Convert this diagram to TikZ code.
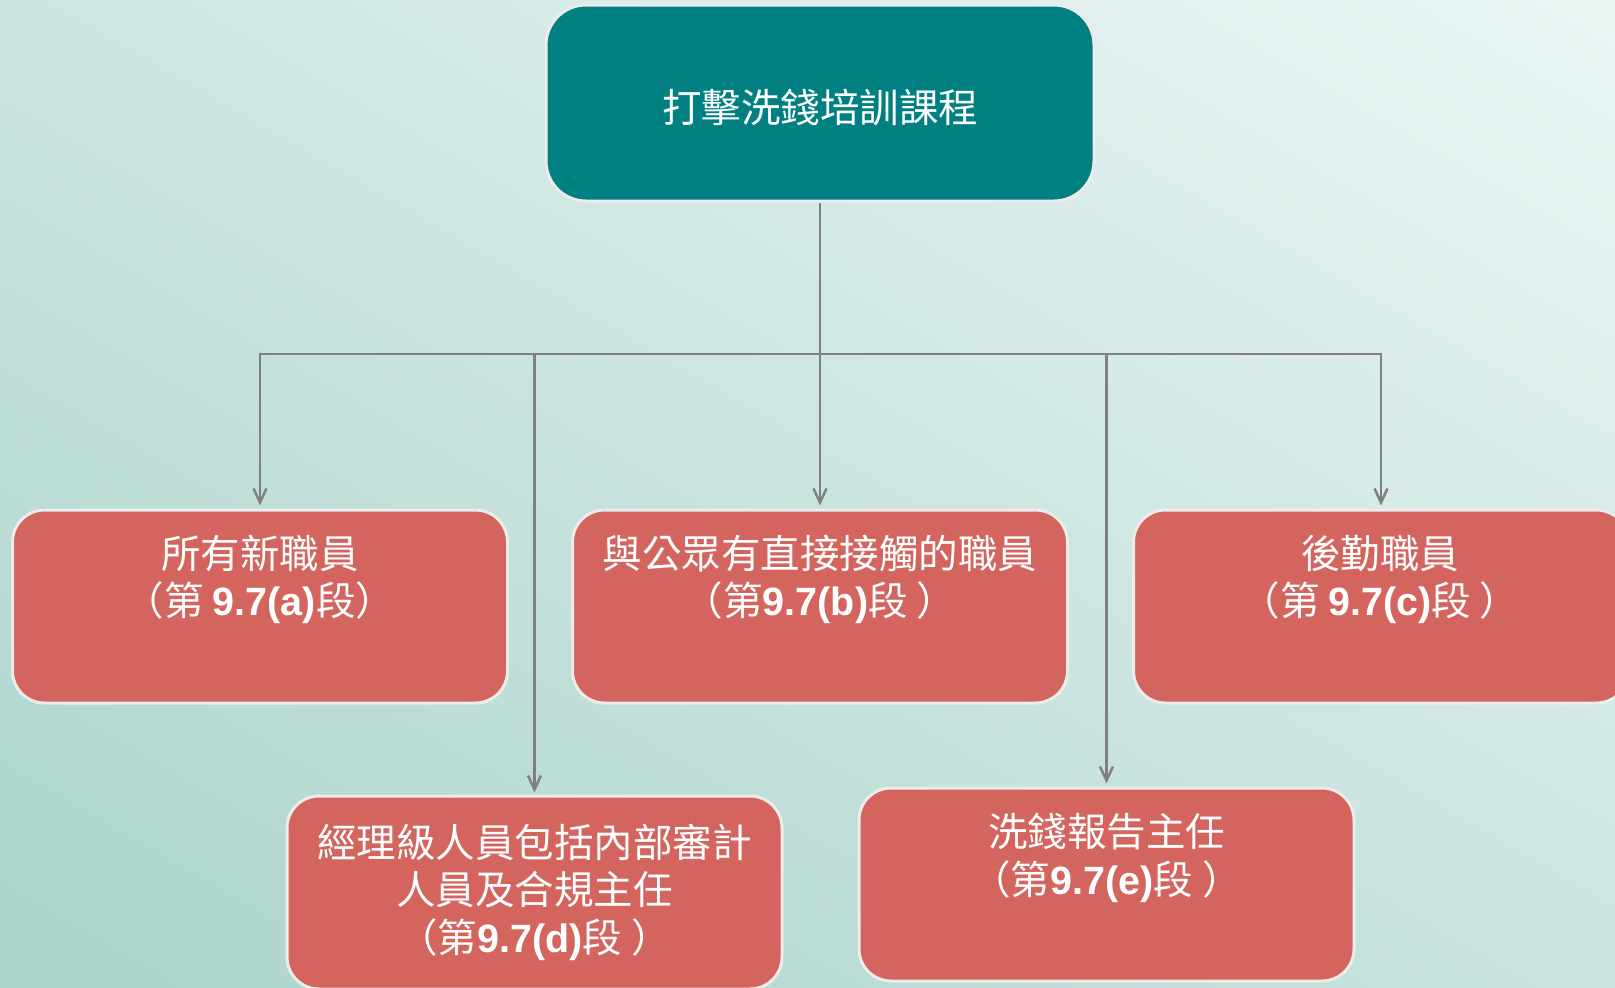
\documentclass[tikz,border=0pt]{standalone}
\usepackage{fontspec}
\setmainfont{Liberation Sans}
\newfontfamily\cjk{Noto Sans CJK TC}
\newfontfamily\num{Liberation Sans}
\usetikzlibrary{arrows.meta}
\definecolor{tealbox}{RGB}{0,128,128}
\definecolor{boxred}{RGB}{211,101,94}
\definecolor{rim}{RGB}{236,236,236}
\definecolor{conn}{RGB}{128,128,128}
\definecolor{bgtop}{RGB}{234,245,244}
\definecolor{bgbot}{RGB}{172,212,204}
\newcommand{\nb}[1]{{\num\bfseries #1}}
\begin{document}
\begin{tikzpicture}[x=1pt,y=-1pt,
  topbox/.style={draw=rim, line width=3pt, fill=tealbox, rounded corners=40pt,
    minimum width=548pt, minimum height=196pt, inner sep=0pt},
  redbox/.style={draw=rim, line width=3pt, fill=boxred, rounded corners=32pt,
    minimum width=495pt, minimum height=193pt, inner sep=0pt},
  lbl/.style={text=white, align=center, inner sep=0pt,
    font=\cjk\fontsize{39.5}{47.5}\selectfont},
  connline/.style={draw=conn, line width=2.5pt},
  arr/.style={connline, -{Straight Barb[length=14pt,width=13pt,line width=2.5pt]}},
]
\useasboundingbox (0,0) rectangle (1615,988);
\clip (0,0) rectangle (1615,988);
\shade[top color=bgtop, bottom color=bgbot, shading angle=-30] (-200,-200) rectangle (1815,1188);

% boxes
\node[topbox] (top) at (820,103) {};
\node[redbox] (A) at (260,606.5) {};
\node[redbox] (B) at (820,606.5) {};
\node[redbox] (C) at (1381,606.5) {};
\node[redbox] (D) at (534.5,892.5) {};
\node[redbox] (E) at (1106.5,884.5) {};

% texts
\node[lbl] (topT) at (820,107) {打擊洗錢培訓課程};
\node[lbl] (AT) at (260,579.5) {所有新職員\\（第 \nb{9.7(a)}段）};
\node[lbl] (BT) at (820,579.5) {與公眾有直接接觸的職員\\（第\nb{9.7(b)}段 ）};
\node[lbl] (CT) at (1380,579.5) {後勤職員\\（第 \nb{9.7(c)}段 ）};
\node[lbl] (DT) at (534.5,892) {經理級人員包括內部審計\\人員及合規主任\\（第\nb{9.7(d)}段 ）};
\node[lbl] (ET) at (1106.5,858) {洗錢報告主任\\（第\nb{9.7(e)}段 ）};

% connectors
\coordinate (bar) at (820,354);
\draw[connline] (top.south) -- (bar);
\draw[arr, shorten >=3pt] (bar) -| (A.north);
\draw[arr, shorten >=3pt] (bar) -- (B.north);
\draw[arr, shorten >=3pt] (bar) -| (C.north);
\draw[arr, shorten >=2pt] (bar) -| (D.north);
\draw[arr, shorten >=3pt] (bar) -| (E.north);
\end{tikzpicture}
\end{document}
